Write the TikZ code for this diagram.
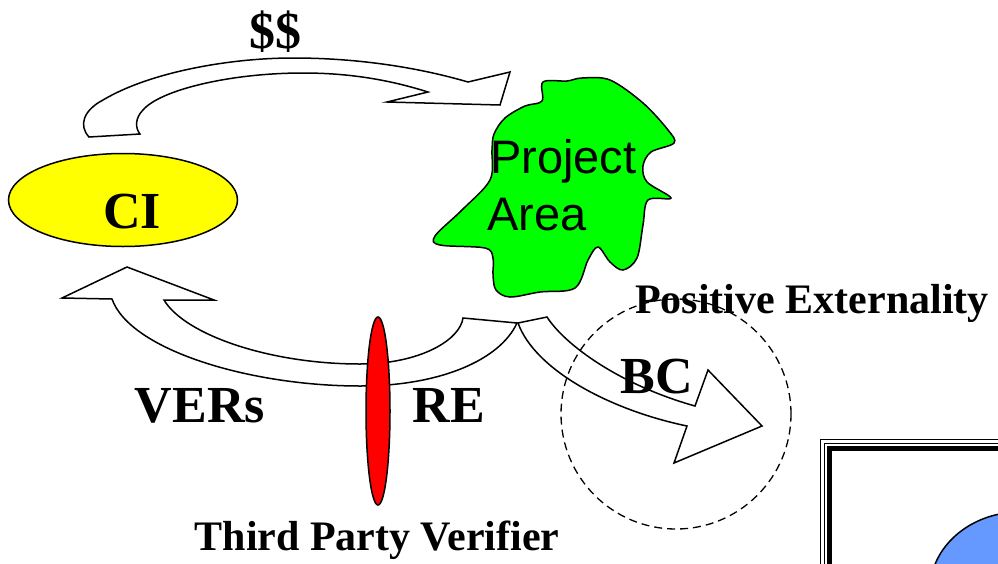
\documentclass[tikz,border=0pt]{standalone}
\usepackage{fontspec}
\setmainfont{Liberation Serif}
\newfontfamily\arialfont{Liberation Sans}
\usetikzlibrary{shapes.geometric}
\definecolor{ciyellow}{RGB}{255,255,0}
\definecolor{areagreen}{RGB}{0,255,0}
\definecolor{verred}{RGB}{255,0,0}
\definecolor{poolblue}{RGB}{102,153,255}
\tikzset{
  outline/.style={draw=black, line width=1.5pt, line join=miter},
  blockarrow/.style={outline, fill=white},
  boldlabel/.style={font=\bfseries\fontsize{52}{52}\selectfont, inner sep=0pt, anchor=base},
  smalllabel/.style={font=\bfseries\fontsize{42}{42}\selectfont, inner sep=0pt, anchor=base},
  arealabel/.style={font=\arialfont\fontsize{47}{47}\selectfont, inner sep=0pt, anchor=base west},
}
\begin{document}
\begin{tikzpicture}[x=1pt, y=-1pt]
\useasboundingbox (0,0) rectangle (998,563);
\fill[white] (0,0) rectangle (998,563);

% curved money arrow from CI over to the project area
\draw[blockarrow]
  (89,137) .. controls (78,125) and (84,110) .. (103,100)
  .. controls (150,72) and (230,58) .. (293,58)
  .. controls (360,58) and (420,68) .. (468,82)
  -- (510,72) -- (500,105) -- (387,102) -- (428,92)
  .. controls (390,80) and (350,73) .. (303,73)
  .. controls (230,73) and (160,90) .. (143,110)
  .. controls (135,118) and (135,128) .. (140,134) -- cycle;

% irregular project area
\draw[outline, fill=areagreen] plot[smooth cycle, tension=0.55] coordinates {
  (543,82) (567,81) (582,78) (610,80) (643,103) (668,130) (674,143)
  (651,152) (643,166) (647,182) (671,198) (648,200) (643,225) (637,258)
  (623,270) (610,262) (598,247) (588,260) (575,288) (540,292) (510,297)
  (496,290) (493,275) (493,258) (485,248) (440,245) (435,236) (462,210)
  (490,180) (492,150) (494,134) (505,118) (525,106) (542,101)};
\node[arealabel] (proj) at (490,173) {Project};
\node[arealabel] (area) at (487,230) {Area};

% buyer ellipse
\node[ellipse, outline, fill=ciyellow, minimum width=229, minimum height=93, inner sep=0pt] (ci) at (123,200) {};
\node[boldlabel] (citext) at (132,228) {CI};

% return arrow carrying the VERs back to CI
\draw[blockarrow]
  (112,299) -- (62,298) -- (127,267) -- (214,300) -- (164,300)
  .. controls (185,335) and (270,364) .. (360,364)
  .. controls (420,364) and (460,340) .. (463,318)
  -- (517,323)
  .. controls (500,360) and (440,386) .. (360,386)
  .. controls (250,386) and (130,350) .. (112,299) -- cycle;

% verifier gate
\node[ellipse, outline, fill=verred, minimum width=24, minimum height=188, inner sep=0pt] (tpv) at (378,411) {};

% benefit arrow leaving the project area
\draw[blockarrow]
  (518,323) -- (547,317)
  .. controls (565,345) and (620,385) .. (695,406)
  -- (708,370) -- (762,426) -- (674,463) -- (687,426)
  .. controls (610,410) and (535,370) .. (518,323) -- cycle;

% externality zone
\node[circle, draw=black, line width=1.3pt, dash pattern=on 8pt off 5pt, minimum size=230, inner sep=0pt] (ext) at (676,414) {};

% labels
\node[boldlabel] (money) at (275,48) {\$\$};
\node[boldlabel] (vers) at (200,422) {VERs};
\node[boldlabel] (re) at (449,422) {RE};
\node[boldlabel] (bc) at (657,393) {BC};
\node[smalllabel] (posext) at (812,313) {Positive Externality};
\node[smalllabel] (tpvtext) at (377,550) {Third Party Verifier};

% framed inset in the lower right corner
\begin{scope}
  \clip (0,0) rectangle (998,563);
  \draw[line width=1.4pt] (820.5,439.5) rectangle (1100,700);
  \draw[line width=1.2pt] (824.5,443.5) rectangle (1100,700);
  \draw[line width=5.5pt] (829.5,448.5) rectangle (1100,700);
  \draw[outline, fill=poolblue] (1020,590) ellipse [x radius=90, y radius=78];
\end{scope}
\end{tikzpicture}
\end{document}
